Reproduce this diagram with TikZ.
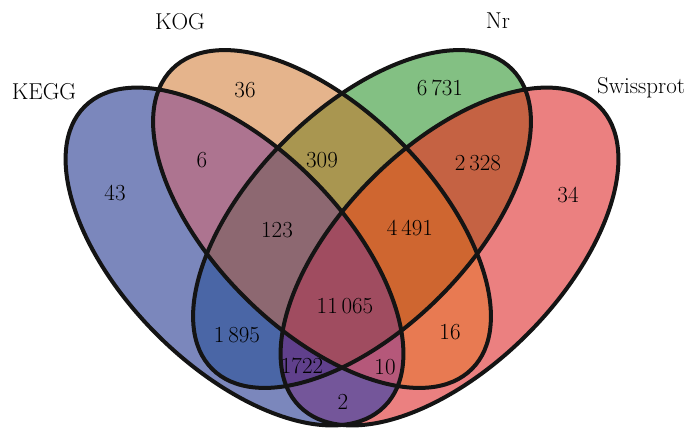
\documentclass[tikz,border=0pt]{standalone}
\definecolor{cKEGG}{RGB}{123,135,188}
\definecolor{cKOG}{RGB}{229,180,140}
\definecolor{cNr}{RGB}{131,192,131}
\definecolor{cSwiss}{RGB}{235,128,128}
\definecolor{cKEGGKOG}{RGB}{173,116,144}
\definecolor{cKOGNr}{RGB}{169,150,80}
\definecolor{cNrSwiss}{RGB}{197,98,67}
\definecolor{cKEGGNr}{RGB}{74,102,166}
\definecolor{cKOGSwiss}{RGB}{232,122,82}
\definecolor{cKEGGSwiss}{RGB}{116,86,154}
\definecolor{cKEGGKOGNr}{RGB}{141,104,113}
\definecolor{cKOGNrSwiss}{RGB}{207,102,48}
\definecolor{cKEGGNrSwiss}{RGB}{96,64,140}
\definecolor{cKEGGKOGSwiss}{RGB}{181,88,122}
\definecolor{cAll}{RGB}{160,76,96}
% one clip per data set
\newcommand{\clipkegg}{\clip[rotate around={-45:(234.5,256.5)}] (234.5,256.5) ellipse [x radius=212, y radius=110];}
\newcommand{\clipkog}{\clip[rotate around={-45:(322,219)}] (322,219) ellipse [x radius=212, y radius=110];}
\newcommand{\clipnr}{\clip[rotate around={45:(362,219)}] (362,219) ellipse [x radius=212, y radius=110];}
\newcommand{\clipswiss}{\clip[rotate around={45:(449.5,256.5)}] (449.5,256.5) ellipse [x radius=212, y radius=110];}
\newcommand{\fillarea}[2]{\begin{scope}#1\fill[#2] (0,0) rectangle (700,437);\end{scope}}
\begin{document}
\begin{tikzpicture}[x=1pt,y=-1pt,
    vennline/.style={line width=4pt, draw=black!92},
    setlabel/.style={font=\fontsize{23}{27}\selectfont},
    count/.style={font=\fontsize{23}{27}\selectfont}]
    \useasboundingbox (0,0) rectangle (700,437);

    % Single sets
    \fillarea{\clipkegg}{cKEGG}
    \fillarea{\clipkog}{cKOG}
    \fillarea{\clipnr}{cNr}
    \fillarea{\clipswiss}{cSwiss}

    % Two sets
    \fillarea{\clipkegg\clipkog}{cKEGGKOG}
    \fillarea{\clipkog\clipnr}{cKOGNr}
    \fillarea{\clipnr\clipswiss}{cNrSwiss}
    \fillarea{\clipkegg\clipnr}{cKEGGNr}
    \fillarea{\clipkog\clipswiss}{cKOGSwiss}
    \fillarea{\clipkegg\clipswiss}{cKEGGSwiss}

    % Three sets
    \fillarea{\clipkegg\clipkog\clipnr}{cKEGGKOGNr}
    \fillarea{\clipkog\clipnr\clipswiss}{cKOGNrSwiss}
    \fillarea{\clipkegg\clipnr\clipswiss}{cKEGGNrSwiss}
    \fillarea{\clipkegg\clipkog\clipswiss}{cKEGGKOGSwiss}

    % All four
    \fillarea{\clipkegg\clipkog\clipnr\clipswiss}{cAll}

    % Outlines
    \draw[vennline, rotate around={-45:(234.5,256.5)}] (234.5,256.5) ellipse [x radius=212, y radius=110];
    \draw[vennline, rotate around={-45:(322,219)}] (322,219) ellipse [x radius=212, y radius=110];
    \draw[vennline, rotate around={45:(362,219)}] (362,219) ellipse [x radius=212, y radius=110];
    \draw[vennline, rotate around={45:(449.5,256.5)}] (449.5,256.5) ellipse [x radius=212, y radius=110];

    % Set names
    \node[setlabel] (lkegg) at (44,92) {KEGG};
    \node[setlabel] (lkog) at (180,22) {KOG};
    \node[setlabel] (lnr) at (498,21) {Nr};
    \node[setlabel] (lswiss) at (641,88) {Swissprot};

    % Counts
    \node[count] (n43) at (115,193) {43};
    \node[count] (n36) at (245,90) {36};
    \node[count] (n6731) at (440,88) {6\,731};
    \node[count] (n34) at (568,195) {34};
    \node[count] (n6) at (202,160) {6};
    \node[count] (n309) at (322,160) {309};
    \node[count] (n2328) at (478,163) {2\,328};
    \node[count] (n123) at (277,230) {123};
    \node[count] (n4491) at (410,228) {4\,491};
    \node[count] (n11065) at (345,306) {11\,065};
    \node[count] (n1895) at (237,335) {1\,895};
    \node[count] (n16) at (450,332) {16};
    \node[count] (n1722) at (302,366) {1722};
    \node[count] (n10) at (385,367) {10};
    \node[count] (n2) at (343,402) {2};
\end{tikzpicture}
\end{document}
